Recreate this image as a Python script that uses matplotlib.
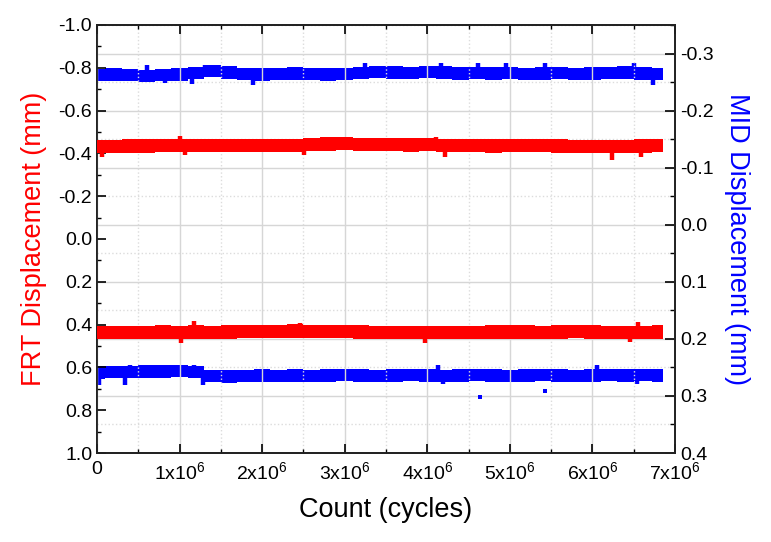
import matplotlib
matplotlib.use("Agg")
import matplotlib.pyplot as plt
from matplotlib.ticker import MultipleLocator, FixedLocator, FormatStrFormatter

plt.rcParams['font.family'] = ['Liberation Sans', 'DejaVu Sans']
plt.rcParams['mathtext.default'] = 'regular'

# sample positions along the count axis (cycles)
count = [0.0e6, 0.2e6, 0.4e6, 0.6e6, 0.8e6, 1.0e6, 1.2e6, 1.4e6, 1.6e6, 1.8e6,
         2.0e6, 2.2e6, 2.4e6, 2.6e6, 2.8e6, 3.0e6, 3.2e6, 3.4e6, 3.6e6, 3.8e6,
         4.0e6, 4.2e6, 4.4e6, 4.6e6, 4.8e6, 5.0e6, 5.2e6, 5.4e6, 5.6e6, 5.8e6,
         6.0e6, 6.2e6, 6.4e6, 6.6e6, 6.85e6]

# FRT (left axis), band centres
frt_upper = [-0.432, -0.433, -0.435, -0.434, -0.436, -0.437,
             -0.436, -0.437, -0.438, -0.437, -0.436, -0.436,
             -0.437, -0.440, -0.444, -0.445, -0.443, -0.441,
             -0.440, -0.439, -0.440, -0.438, -0.437, -0.436,
             -0.435, -0.436, -0.437, -0.436, -0.434, -0.433,
             -0.432, -0.431, -0.433, -0.434, -0.436]
frt_lower = [0.437, 0.436, 0.437, 0.436, 0.435, 0.436,
             0.435, 0.436, 0.434, 0.433, 0.432, 0.431,
             0.430, 0.431, 0.432, 0.433, 0.434, 0.436,
             0.437, 0.436, 0.437, 0.438, 0.437, 0.436,
             0.435, 0.434, 0.435, 0.436, 0.434, 0.433,
             0.434, 0.436, 0.437, 0.436, 0.435]
frt_spread = 0.031

# MID (right axis)
mid_upper = [-0.262, -0.263, -0.262, -0.261, -0.262, -0.263,
             -0.266, -0.269, -0.267, -0.264, -0.263, -0.264,
             -0.265, -0.264, -0.263, -0.264, -0.266, -0.268,
             -0.267, -0.266, -0.268, -0.267, -0.265, -0.266,
             -0.265, -0.266, -0.264, -0.265, -0.266, -0.264,
             -0.265, -0.266, -0.267, -0.265, -0.264]
mid_lower = [0.259, 0.258, 0.258, 0.257, 0.257, 0.256,
             0.258, 0.265, 0.266, 0.265, 0.264, 0.265,
             0.264, 0.265, 0.264, 0.263, 0.264, 0.265,
             0.264, 0.263, 0.264, 0.265, 0.264, 0.263,
             0.264, 0.265, 0.264, 0.263, 0.264, 0.265,
             0.264, 0.263, 0.264, 0.263, 0.264]
mid_spread = 0.011

# points sticking out of the bands (attached to the band edge)
frt_upper_out_x = [0.06e6, 1.00e6, 1.06e6, 2.51e6, 2.86e6, 4.11e6, 4.22e6, 6.24e6, 6.59e6]
frt_upper_out_y = [-0.385, -0.481, -0.393, -0.393, -0.478, -0.475, -0.385, -0.369, -0.382]
frt_lower_out_x = [1.02e6, 1.17e6, 2.46e6, 3.97e6, 6.46e6, 6.55e6]
frt_lower_out_y = [0.485, 0.383, 0.394, 0.485, 0.480, 0.386]
mid_upper_out_x = [0.60e6, 0.82e6, 1.15e6, 1.31e6, 1.89e6, 3.24e6, 4.17e6, 4.62e6,
                   4.95e6, 5.42e6, 6.50e6, 6.73e6]
mid_upper_out_y = [-0.280, -0.249, -0.247, -0.280, -0.245, -0.284, -0.283, -0.284,
                   -0.284, -0.283, -0.284, -0.245]
mid_lower_out_x = [0.02e6, 0.34e6, 0.40e6, 0.73e6, 1.17e6, 1.28e6, 4.13e6, 4.19e6,
                   6.06e6, 6.54e6]
mid_lower_out_y = [0.280, 0.281, 0.245, 0.245, 0.245, 0.281, 0.245, 0.279,
                   0.245, 0.279]

# isolated MID points below the lower band
mid_stray_x = [4.64e6, 5.43e6]
mid_stray_y = [0.301, 0.291]

xticks = [0, 1e6, 2e6, 3e6, 4e6, 5e6, 6e6, 7e6]
xticklabels = ['0'] + ['%dx10$^{6}$' % k for k in range(1, 8)]

RED = '#ff0000'
BLUE = '#0000ff'
GRID_MAJOR = '#d6d6d6'
GRID_MINOR = '#dcdcdc'

fig = plt.figure(figsize=(7.71, 5.42), dpi=100)
ax = fig.add_axes([0.1258, 0.1642, 0.7497, 0.7897])
ax2 = ax.twinx()
ax.set_zorder(ax2.get_zorder() + 1)
ax.patch.set_visible(False)


def band(axis, centre, spread, color):
    lo = [c - spread for c in centre]
    hi = [c + spread for c in centre]
    axis.fill_between(count, lo, hi, step='mid', color=color, lw=0, zorder=3)


def spikes(axis, centre, xs, ys, color):
    # short strokes from the band centre out to each stray value
    base = []
    for x in xs:
        i = min(range(len(count)), key=lambda k: abs(count[k] - x))
        base.append(centre[i])
    axis.vlines(xs, base, ys, color=color, lw=3.2, zorder=3)


band(ax, frt_upper, frt_spread, RED)
band(ax, frt_lower, frt_spread, RED)
band(ax2, mid_upper, mid_spread, BLUE)
band(ax2, mid_lower, mid_spread, BLUE)

spikes(ax, frt_upper, frt_upper_out_x, frt_upper_out_y, RED)
spikes(ax, frt_lower, frt_lower_out_x, frt_lower_out_y, RED)
spikes(ax2, mid_upper, mid_upper_out_x, mid_upper_out_y, BLUE)
spikes(ax2, mid_lower, mid_lower_out_x, mid_lower_out_y, BLUE)
ax2.plot(mid_stray_x, mid_stray_y, 's', ms=3.2, color=BLUE, mew=0, zorder=3)

# axes limits
ax.set_xlim(0, 7e6)
ax.set_ylim(1.0, -1.0)
ax2.set_ylim(0.4, -0.35)

ax.xaxis.set_major_locator(FixedLocator(xticks))
ax.set_xticklabels(xticklabels)
ax.xaxis.set_minor_locator(MultipleLocator(0.5e6))
ax.yaxis.set_major_locator(MultipleLocator(0.2))
ax.yaxis.set_minor_locator(MultipleLocator(0.1))
ax.yaxis.set_major_formatter(FormatStrFormatter('%.1f'))
ax2.yaxis.set_major_locator(FixedLocator([-0.3, -0.2, -0.1, 0.0, 0.1, 0.2, 0.3, 0.4]))
ax2.yaxis.set_minor_locator(FixedLocator([-0.35, -0.25, -0.15, -0.05, 0.05, 0.15, 0.25, 0.35]))
ax2.yaxis.set_major_formatter(FormatStrFormatter('%.1f'))

# grid: vertical from count axis, horizontal from MID axis
ax.grid(True, axis='x', which='major', color=GRID_MAJOR, lw=1.0, ls='-')
ax.grid(True, axis='x', which='minor', color=GRID_MINOR, lw=1.0, ls=':')
ax2.grid(True, axis='y', which='major', color=GRID_MAJOR, lw=1.0, ls='-')
ax2.grid(True, axis='y', which='minor', color=GRID_MINOR, lw=1.0, ls=':')
ax.set_axisbelow(True)

ax.tick_params(axis='x', which='both', direction='in', top=True, labelsize=14, pad=6)
ax.tick_params(axis='x', which='major', length=6.5, width=1.2)
ax.tick_params(axis='x', which='minor', length=3.2, width=1.0)
ax.tick_params(axis='y', which='both', direction='in', right=False, labelsize=14)
ax.tick_params(axis='y', which='major', length=6.5, width=1.2)
ax.tick_params(axis='y', which='minor', length=3.2, width=1.0)
ax2.tick_params(axis='y', which='both', direction='in', labelsize=14)
ax2.tick_params(axis='y', which='major', length=7, width=1.2)
ax2.tick_params(axis='y', which='minor', length=3.5, width=1.0)

for a in (ax, ax2):
    for s in a.spines.values():
        s.set_linewidth(1.3)
        s.set_color('#222222')

ax.set_xlabel('Count (cycles)', fontsize=19.5, labelpad=10)
ax.set_ylabel('FRT Displacement (mm)', fontsize=19.5, color=RED, labelpad=8)
ax2.set_ylabel('MID Displacement (mm)', fontsize=19.5, color=BLUE, rotation=270, labelpad=26)

fig.savefig('out.png', dpi=100, facecolor='white')
